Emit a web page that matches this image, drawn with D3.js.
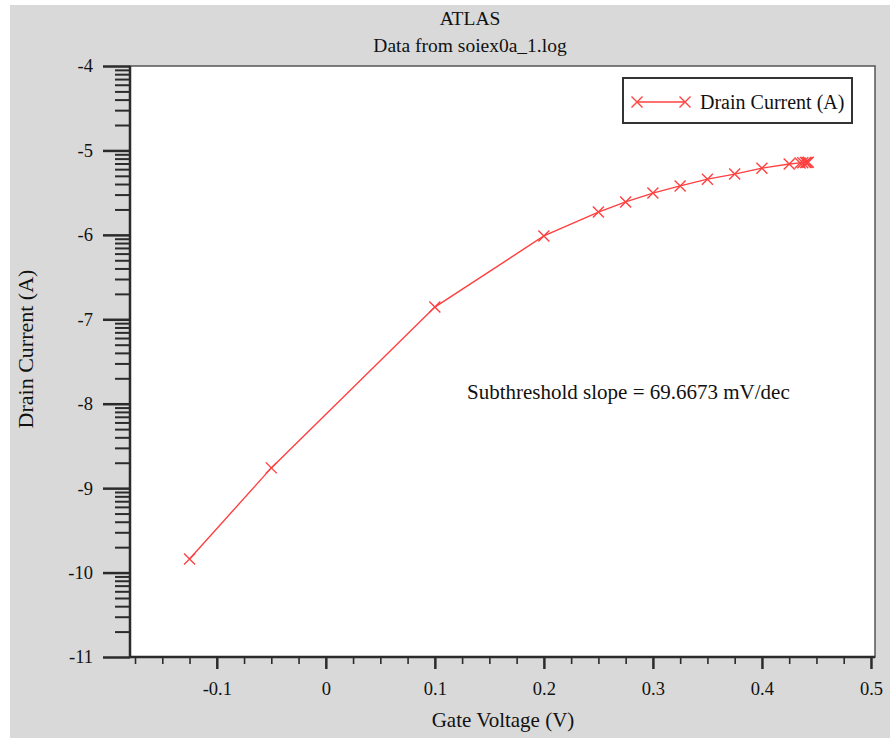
<!DOCTYPE html>
<html>
<head>
<meta charset="utf-8">
<script src="https://cdn.jsdelivr.net/npm/d3@7"></script>
<style>
  html, body { margin: 0; padding: 0; background: #fff; }
  svg { display: block; font-family: "Liberation Serif", "Times New Roman", serif; }
  svg text { font-family: "Liberation Serif", "Times New Roman", serif; }
</style>
</head>
<body>
<main></main>
<script>
// gate voltage (V) and log10 of drain current (A)
const gateVoltage = [-0.125, -0.05, 0.1, 0.2, 0.25, 0.275, 0.3, 0.325, 0.35, 0.375, 0.4, 0.425, 0.435, 0.4375, 0.44, 0.4413, 0.4425];
const drainCurrent = [-9.84, -8.76, -6.855, -6.013, -5.73, -5.61, -5.505, -5.42, -5.34, -5.28, -5.21, -5.16, -5.148, -5.145, -5.143, -5.142, -5.14];
const xTicks = [-0.1, 0, 0.1, 0.2, 0.3, 0.4, 0.5];
const yTicks = [-11, -10, -9, -8, -7, -6, -5, -4];

const width = 890;
const height = 738;
const plotLeft = 130, plotRight = 875, plotTop = 66, plotBottom = 657;
const red = "#ff4040";
const dark = "#2b2b2b";
const serif = "Liberation Serif, Times New Roman, serif";

const svg = d3.select("main")
    .append("svg")
    .attr("width", width)
    .attr("height", height);

// grey panel and white plot area
svg.append("rect")
    .attr("x", 10).attr("y", 5)
    .attr("width", width - 10).attr("height", height - 5)
    .attr("fill", "#d9d9d9");

svg.append("rect")
    .attr("x", plotLeft).attr("y", plotTop)
    .attr("width", plotRight - plotLeft).attr("height", plotBottom - plotTop)
    .attr("fill", "#fff")
    .attr("stroke", "#555")
    .attr("stroke-width", 1.5);

const xScale = d3.scaleLinear()
    .domain([-0.1796, 0.5037])
    .range([plotLeft, plotRight]);

const yScale = d3.scaleLinear()
    .domain([-11, -4])
    .range([plotBottom, plotTop]);

// minor ticks
const xMinor = d3.range(-0.175, 0.5001, 0.025).filter(v => Math.abs(v * 10 - Math.round(v * 10)) > 1e-6);
const yMinor = [];
for (let d = -11; d < -4; d++) {
    for (let k = 2; k <= 9; k++) yMinor.push(d + Math.log10(k));
}

svg.append("g")
    .attr("transform", `translate(0, ${plotBottom})`)
    .call(d3.axisBottom(xScale).tickValues(xMinor).tickSize(7).tickFormat(""))
    .call(g => g.select(".domain").remove())
    .call(g => g.selectAll("line").attr("stroke", dark).attr("stroke-width", 1.6));

const xAxis = svg.append("g")
    .attr("transform", `translate(0, ${plotBottom})`)
    .call(d3.axisBottom(xScale).tickValues(xTicks).tickSize(12).tickPadding(13)
        .tickFormat(d => d === 0 ? "0" : d3.format(".1f")(d).replace("−", "-")))
    .attr("font-family", serif)
    .attr("font-size", 18.5);
xAxis.select(".domain").attr("stroke", dark).attr("stroke-width", 2.5).attr("d", `M${plotLeft},0H${plotRight}`);
xAxis.selectAll("line").attr("stroke", dark).attr("stroke-width", 2.5);
xAxis.selectAll("text").attr("fill", "#111");

svg.append("g")
    .attr("transform", `translate(${plotLeft}, 0)`)
    .call(d3.axisLeft(yScale).tickValues(yMinor).tickSize(15).tickFormat(""))
    .call(g => g.select(".domain").remove())
    .call(g => g.selectAll("line").attr("stroke", dark).attr("stroke-width", 2));

const yAxis = svg.append("g")
    .attr("transform", `translate(${plotLeft}, 0)`)
    .call(d3.axisLeft(yScale).tickValues(yTicks).tickSize(27).tickPadding(10)
        .tickFormat(d => String(d)))
    .attr("font-family", serif)
    .attr("font-size", 18.5);
yAxis.select(".domain").attr("stroke", dark).attr("stroke-width", 2.5).attr("d", `M0,${plotBottom}V${plotTop}`);
yAxis.selectAll("line").attr("stroke", dark).attr("stroke-width", 2.5);
yAxis.selectAll("text").attr("fill", "#111");

// data line
const points = gateVoltage.map((v, i) => [v, drainCurrent[i]]);

svg.append("path")
    .datum(points)
    .attr("fill", "none")
    .attr("stroke", red)
    .attr("stroke-width", 1.4)
    .attr("d", d3.line().x(d => xScale(d[0])).y(d => yScale(d[1])));

const cross = (sel, s) => sel.append("path")
    .attr("d", `M${-s},${-s}L${s},${s}M${-s},${s}L${s},${-s}`)
    .attr("fill", "none")
    .attr("stroke", red)
    .attr("stroke-width", 1.4);

svg.selectAll(".marker")
    .data(points)
    .enter()
    .append("g")
    .attr("class", "marker")
    .attr("transform", d => `translate(${xScale(d[0])}, ${yScale(d[1])})`)
    .each(function() { cross(d3.select(this), 5.5); });

// legend
const legend = svg.append("g").attr("transform", "translate(623, 78)");
legend.append("rect")
    .attr("width", 229).attr("height", 45)
    .attr("fill", "#fff")
    .attr("stroke", "#333")
    .attr("stroke-width", 2);
legend.append("line")
    .attr("x1", 14).attr("x2", 62).attr("y1", 24).attr("y2", 24)
    .attr("stroke", red).attr("stroke-width", 1.4);
cross(legend.append("g").attr("transform", "translate(14, 24)"), 5.5);
cross(legend.append("g").attr("transform", "translate(62, 24)"), 5.5);
legend.append("text")
    .attr("x", 77).attr("y", 31)
    .attr("font-size", 20)
    .attr("fill", "#111")
    .text("Drain Current (A)");

// titles and labels
svg.append("text")
    .attr("x", 470).attr("y", 25)
    .attr("text-anchor", "middle")
    .attr("font-size", 19.5)
    .attr("fill", "#111")
    .text("ATLAS");

svg.append("text")
    .attr("x", 470).attr("y", 52)
    .attr("text-anchor", "middle")
    .attr("font-size", 19.5)
    .attr("fill", "#111")
    .text("Data from soiex0a_1.log");

svg.append("text")
    .attr("x", 503).attr("y", 727)
    .attr("text-anchor", "middle")
    .attr("font-size", 21)
    .attr("fill", "#111")
    .text("Gate Voltage (V)");

svg.append("text")
    .attr("transform", "translate(33, 349) rotate(-90)")
    .attr("text-anchor", "middle")
    .attr("font-size", 22)
    .attr("fill", "#111")
    .text("Drain Current (A)");

svg.append("text")
    .attr("x", 467).attr("y", 399)
    .attr("font-size", 21)
    .attr("fill", "#111")
    .text("Subthreshold slope = 69.6673 mV/dec");
</script>
</body>
</html>
